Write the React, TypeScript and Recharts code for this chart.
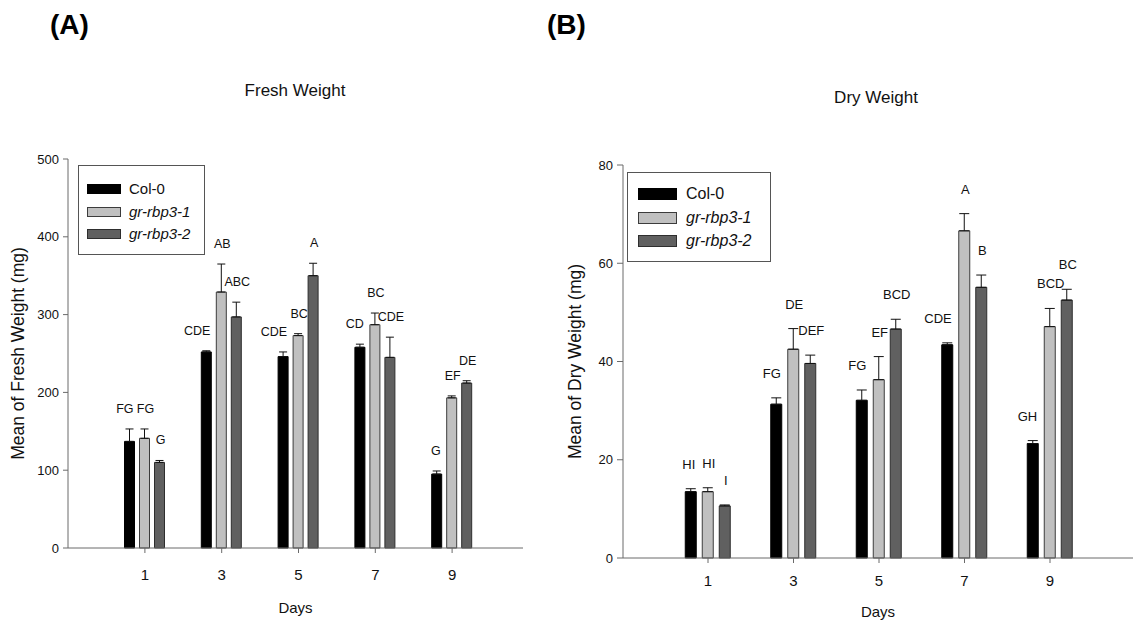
import React from 'react';
import { BarChart, Bar, XAxis, YAxis, ErrorBar, LabelList, Label, Legend } from 'recharts';

const days = ['1', '3', '5', '7', '9'];
const seriesNames = ['Col-0', 'gr-rbp3-1', 'gr-rbp3-2'];

// Fresh weight (mg)
const freshCol0 = [137, 252, 246, 258, 95];
const freshCol0Se = [16, 1.5, 6, 4, 4];
const freshRbp1 = [141, 329, 273, 287, 193];
const freshRbp1Se = [12, 36, 2.5, 15, 2.5];
const freshRbp2 = [110, 297, 350, 245, 212];
const freshRbp2Se = [2.5, 19, 16, 26, 3];
const freshCol0Letters = ['FG', 'CDE', 'CDE', 'CD', 'G'];
const freshRbp1Letters = ['FG', 'AB', 'BC', 'BC', 'EF'];
const freshRbp2Letters = ['G', 'ABC', 'A', 'CDE', 'DE'];
const freshTicks = [0, 100, 200, 300, 400, 500];

// Dry weight (mg)
const dryCol0 = [13.5, 31.3, 32.1, 43.4, 23.3];
const dryCol0Se = [0.6, 1.3, 2.1, 0.4, 0.6];
const dryRbp1 = [13.5, 42.5, 36.3, 66.6, 47.1];
const dryRbp1Se = [0.8, 4.2, 4.7, 3.5, 3.7];
const dryRbp2 = [10.6, 39.6, 46.6, 55.1, 52.5];
const dryRbp2Se = [0.2, 1.7, 2.0, 2.5, 2.2];
const dryCol0Letters = ['HI', 'FG', 'FG', 'CDE', 'GH'];
const dryRbp1Letters = ['HI', 'DE', 'EF', 'A', 'BCD'];
const dryRbp2Letters = ['I', 'DEF', 'BCD', 'B', 'BC'];
const dryTicks = [0, 20, 40, 60, 80];

const FONT = '"Liberation Sans", Arial, Helvetica, sans-serif';
const AXIS = '#6a6a6a';
const COLORS = [
  { fill: '#000000', stroke: '#000000' },
  { fill: '#c0c0c0', stroke: '#3c3c3c' },
  { fill: '#606060', stroke: '#2e2e2e' },
];

function buildRows(a: number[], ae: number[], b: number[], be: number[], c: number[], ce: number[]) {
  return days.map((d, i) => ({
    day: d,
    col0: a[i],
    col0Err: [0, ae[i]],
    rbp1: b[i],
    rbp1Err: [0, be[i]],
    rbp2: c[i],
    rbp2Err: [0, ce[i]],
  }));
}

const freshRows = buildRows(freshCol0, freshCol0Se, freshRbp1, freshRbp1Se, freshRbp2, freshRbp2Se);
const dryRows = buildRows(dryCol0, dryCol0Se, dryRbp1, dryRbp1Se, dryRbp2, dryRbp2Se);

function letterLabel(letters: string[], values: number[], ses: number[], anchorEnd: boolean, gap: number, fontSize: number) {
  return (props: any) => {
    const vb = props.viewBox && props.viewBox.width !== undefined ? props.viewBox : props;
    const { x, y, width, height } = vb;
    const index = props.index;
    if (index === undefined || x === undefined) return null;
    const v = values[index];
    const pxPerUnit = v ? height / v : 0;
    const errTop = y - ses[index] * pxPerUnit;
    const tx = anchorEnd ? x + width - 1 : x + width / 2 + 1;
    return (
      <text
        x={tx}
        y={errTop - gap}
        textAnchor={anchorEnd ? 'end' : 'middle'}
        fontSize={fontSize}
        fontFamily={FONT}
        fill="#111111"
      >
        {letters[index]}
      </text>
    );
  };
}

function LegendBox({ swW, swH, textX, fontSize, rowYs, width, height, swX }: any) {
  return (
    <div
      style={{
        position: 'relative',
        width,
        height,
        border: '1px solid #555',
        background: '#fff',
        boxSizing: 'border-box',
        fontFamily: FONT,
      }}
    >
      {seriesNames.map((n, i) => (
        <div key={n}>
          <div
            style={{
              position: 'absolute',
              left: swX,
              top: rowYs[i] - swH / 2,
              width: swW,
              height: swH,
              background: COLORS[i].fill,
              border: `1px solid ${COLORS[i].stroke}`,
              boxSizing: 'border-box',
            }}
          />
          <div
            style={{
              position: 'absolute',
              left: textX,
              top: rowYs[i] - fontSize * 0.6,
              fontSize,
              lineHeight: `${fontSize * 1.2}px`,
              color: '#111',
              fontStyle: i === 0 ? 'normal' : 'italic',
              whiteSpace: 'nowrap',
            }}
          >
            {n}
          </div>
        </div>
      ))}
    </div>
  );
}

function Panel(props: any) {
  const {
    rows, domain, ticks, width, height, margin, padding, barSize, barGap, errW, yTitle, yTickSize,
    xTickMargin, xHeight, daysOffset, yLabelOffset, yWidth, letters, values, ses, gap, letterSize, legend,
  } = props;
  const keys = ['col0', 'rbp1', 'rbp2'];
  return (
    <BarChart width={width} height={height} data={rows} margin={margin} barSize={barSize} barGap={barGap}>
      <XAxis
        dataKey="day"
        padding={padding}
        height={xHeight}
        tickSize={5}
        tickMargin={xTickMargin}
        axisLine={{ stroke: AXIS }}
        tickLine={{ stroke: AXIS }}
        tick={{ fill: '#111', fontSize: 15, fontFamily: FONT }}
      >
        <Label value="Days" position="insideBottom" offset={daysOffset} fontSize={15} fontFamily={FONT} fill="#111" />
      </XAxis>
      <XAxis xAxisId="top" orientation="top" dataKey="day" padding={padding} height={0} tick={false} tickLine={false} axisLine={{ stroke: AXIS }} />
      <YAxis
        domain={domain}
        ticks={ticks}
        width={yWidth}
        tickSize={yTickSize}
        tickMargin={4}
        interval={0}
        axisLine={{ stroke: AXIS }}
        tickLine={{ stroke: AXIS }}
        tick={{ fill: '#111', fontSize: 13, fontFamily: FONT }}
      >
        <Label
          value={yTitle}
          angle={-90}
          position="insideLeft"
          offset={yLabelOffset}
          fontSize={17.5}
          fontFamily={FONT}
          fill="#111"
          style={{ textAnchor: 'middle' }}
        />
      </YAxis>
      <YAxis yAxisId="right" orientation="right" domain={domain} width={0} tick={false} tickLine={false} axisLine={{ stroke: AXIS }} />
      <Legend
        layout="vertical"
        align="center"
        verticalAlign="middle"
        wrapperStyle={{ position: 'absolute', left: legend.left, top: legend.top, width: legend.width, height: legend.height }}
        content={() => <LegendBox {...legend} />}
      />
      {keys.map((k, i) => (
        <Bar key={k} dataKey={k} name={seriesNames[i]} fill={COLORS[i].fill} stroke={COLORS[i].stroke} strokeWidth={1} isAnimationActive={false}>
          <ErrorBar dataKey={`${k}Err`} width={errW} stroke="#111" strokeWidth={1} isAnimationActive={false} />
          <LabelList content={letterLabel(letters[i], values[i], ses[i], i === 0, gap, letterSize)} />
        </Bar>
      ))}
    </BarChart>
  );
}

export default function App() {
  return (
    <div style={{ position: 'absolute', left: 0, top: 0, width: 1136, height: 624, background: '#fff', fontFamily: FONT, overflow: 'hidden' }}>
      <div style={{ position: 'absolute', left: 50, top: 10, fontSize: 28, lineHeight: '30px', fontWeight: 'bold', color: '#000' }}>(A)</div>
      <div style={{ position: 'absolute', left: 547, top: 10, fontSize: 28, lineHeight: '30px', fontWeight: 'bold', color: '#000' }}>(B)</div>
      <div style={{ position: 'absolute', left: 145, width: 300, top: 81, textAlign: 'center', fontSize: 17, lineHeight: '20px', color: '#111' }}>Fresh Weight</div>
      <div style={{ position: 'absolute', left: 726, width: 300, top: 88, textAlign: 'center', fontSize: 17, lineHeight: '20px', color: '#111' }}>Dry Weight</div>

      <div style={{ position: 'absolute', left: 0, top: 0 }}>
        <Panel
          rows={freshRows}
          domain={[0, 500]}
          ticks={freshTicks}
          width={560}
          height={624}
          margin={{ top: 159, right: 37, bottom: 0, left: 8 }}
          padding={{ left: 38.5, right: 32.5 }}
          barSize={10}
          barGap={5}
          errW={4}
          yTitle="Mean of Fresh Weight (mg)"
          yTickSize={5}
          yWidth={60}
          yLabelOffset={10}
          xTickMargin={16}
          xHeight={76}
          daysOffset={11}
          letters={[freshCol0Letters, freshRbp1Letters, freshRbp2Letters]}
          values={[freshCol0, freshRbp1, freshRbp2]}
          ses={[freshCol0Se, freshRbp1Se, freshRbp2Se]}
          gap={16}
          letterSize={12.5}
          legend={{ left: 78, top: 165, width: 127, height: 90, swX: 8, swW: 34, swH: 10, textX: 50, fontSize: 15, rowYs: [23, 46, 68] }}
        />
      </div>

      <div style={{ position: 'absolute', left: 560, top: 0 }}>
        <Panel
          rows={dryRows}
          domain={[0, 80]}
          ticks={dryTicks}
          width={576}
          height={624}
          margin={{ top: 165, right: 3, bottom: 0, left: 5 }}
          padding={{ left: 42.25, right: 40.25 }}
          barSize={11}
          barGap={6}
          errW={5}
          yTitle="Mean of Dry Weight (mg)"
          yTickSize={6}
          yWidth={58}
          yLabelOffset={10}
          xTickMargin={12}
          xHeight={66}
          daysOffset={7}
          letters={[dryCol0Letters, dryRbp1Letters, dryRbp2Letters]}
          values={[dryCol0, dryRbp1, dryRbp2]}
          ses={[dryCol0Se, dryRbp1Se, dryRbp2Se]}
          gap={20}
          letterSize={13}
          legend={{ left: 67, top: 172, width: 144, height: 90, swX: 10, swW: 39, swH: 12, textX: 58, fontSize: 16, rowYs: [21, 45, 68] }}
        />
      </div>
    </div>
  );
}
